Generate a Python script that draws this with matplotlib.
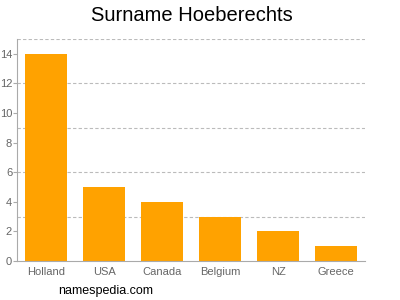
import matplotlib
matplotlib.use("Agg")
import matplotlib.pyplot as plt

plt.rcParams["font.family"] = ["Liberation Sans", "DejaVu Sans"]

# Datos
paises = ["Holland", "USA", "Canada", "Belgium", "NZ", "Greece"]
conteos = [14, 5, 4, 3, 2, 1]
ticks_y = [0, 2, 4, 6, 8, 10, 12, 14]
lineas_y = [3, 6, 9, 12, 15]

fig = plt.figure(figsize=(4, 3), dpi=100)
ax = fig.add_axes([17 / 400, 39 / 300, 348 / 400, 222 / 300])

ax.bar(range(len(paises)), conteos, width=0.74, color="#FFA200", zorder=2)

for y in lineas_y:
    ax.axhline(y, color="#bbbbbb", linestyle=(0, (3, 2)), linewidth=0.8, zorder=1)

ax.set_xlim(-0.5, len(paises) - 0.5)
ax.set_ylim(0, 15)
ax.set_yticks(ticks_y)
ax.set_xticks(range(len(paises)))
ax.set_xticklabels(paises)
ax.tick_params(axis="both", colors="#aaaaaa", labelcolor="#666666", labelsize=8,
               length=3, width=0.8)
ax.tick_params(axis="x", length=0, pad=4)
ax.tick_params(axis="y", pad=0.5)

for lado in ["top", "right"]:
    ax.spines[lado].set_visible(False)
for lado in ["left", "bottom"]:
    ax.spines[lado].set_color("#aaaaaa")
    ax.spines[lado].set_linewidth(0.8)

fig.text(0.48, 0.948, "Surname Hoeberechts", ha="center", va="center", fontsize=14.5)
fig.text(58 / 400, 0.03, "namespedia.com", ha="left", va="center", fontsize=9)

fig.savefig("out.png", dpi=100)
